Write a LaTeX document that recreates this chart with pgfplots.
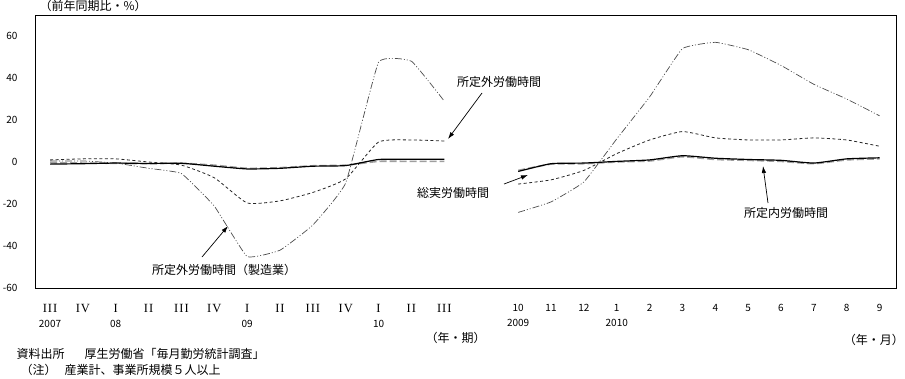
\documentclass[border=0pt]{standalone}
\usepackage{pgfplots}
\pgfplotsset{compat=1.18}
\usepackage{pgfplotstable}
\usepackage{fontspec}
\setmainfont{Noto Sans CJK JP}
\newfontfamily\romanf[LetterSpace=8]{Liberation Serif}
\usetikzlibrary{arrows.meta}

% quarterly: 2007 III ... 2010 III  (x = 0..12)
\pgfplotstableread{
x tot sch ovt mfg
0 -1.0 -0.3 1.0 0.5
1 -0.8 -0.5 1.5 0.5
2 -0.5 -0.6 1.5 -0.5
3 -0.7 -0.8 0.0 -3.0
4 -0.6 -0.6 -1.5 -5.5
5 -2.0 -1.5 -7.5 -21.0
6 -3.3 -3.0 -19.5 -45.0
7 -3.0 -2.7 -18.5 -42.0
8 -2.0 -1.8 -14.5 -30.0
9 -1.7 -1.5 -8.0 -10.0
10 1.2 0.3 9.5 47.5
11 1.3 0.3 10.5 48.0
12 1.3 0.3 10.0 29.0
}\quarterdata

% monthly: 2009/10 ... 2010/9
\pgfplotstableread{
x tot sch ovt mfg
14.25 -4.5 -4.0 -10.5 -24.0
15.25 -0.8 -1.0 -8.5 -19.0
16.25 -0.5 -0.8 -4.0 -9.5
17.25 0.3 0.0 4.0 11.0
18.25 1.0 0.5 10.5 31.0
19.25 3.0 2.5 14.5 54.0
20.25 1.8 1.2 11.5 57.0
21.25 1.2 0.8 10.5 53.5
22.25 0.8 0.3 10.5 46.0
23.25 -0.5 -0.8 11.5 37.0
24.25 1.5 1.0 10.5 30.0
25.25 2.0 1.5 7.5 22.0
}\monthdata

\tikzset{
  totstyle/.style={black, line width=1.2pt},
  schstyle/.style={gray!75, line width=1.6pt, dash pattern=on 7pt off 3pt},
  ovtstyle/.style={black!85, line width=0.8pt, dash pattern=on 3pt off 2.5pt},
  mfgstyle/.style={gray!60!black, line width=0.7pt, dash pattern=on 7pt off 2pt on 1pt off 2pt on 1pt off 2pt},
  jp/.style={font=\fontsize{12}{14}\selectfont},
}

\begin{document}
\begin{tikzpicture}
\useasboundingbox (0pt,0pt) rectangle (905pt,-378pt);
\begin{axis}[
  at={(35pt,-288pt)}, anchor=south west,
  scale only axis, width=861pt, height=273pt,
  xmin=-0.457, xmax=25.75, ymin=-60, ymax=70,
  ytick={-60,-40,-20,0,20,40,60},
  xtick={0,1,2,3,4,5,6,7,8,9,10,11,12,14.25,15.25,16.25,17.25,18.25,19.25,20.25,21.25,22.25,23.25,24.25,25.25},
  xticklabels={
    {{\romanf\fontsize{12.5}{15}\selectfont III}\\2007},{{\romanf\fontsize{12.5}{15}\selectfont IV}},{{\romanf\fontsize{12.5}{15}\selectfont I}\\08},{{\romanf\fontsize{12.5}{15}\selectfont II}},{{\romanf\fontsize{12.5}{15}\selectfont III}},{{\romanf\fontsize{12.5}{15}\selectfont IV}},
    {{\romanf\fontsize{12.5}{15}\selectfont I}\\09},{{\romanf\fontsize{12.5}{15}\selectfont II}},{{\romanf\fontsize{12.5}{15}\selectfont III}},{{\romanf\fontsize{12.5}{15}\selectfont IV}},{{\romanf\fontsize{12.5}{15}\selectfont I}\\10},{{\romanf\fontsize{12.5}{15}\selectfont II}},{{\romanf\fontsize{12.5}{15}\selectfont III}},
    {10\\2009},{11},{12},{1\\2010},{2},{3},{4},{5},{6},{7},{8},{9}},
  major tick length=0pt,
  axis line style={line width=0.9pt},
  /pgf/number format/assume math mode=true,
  tick label style={font=\fontsize{10}{15}\selectfont},
  xticklabel style={align=center, yshift=-13pt, font=\fontsize{10}{15}\selectfont},
  yticklabel style={xshift=-14pt},
  clip=false,
]
\addplot[mfgstyle, smooth, tension=0.2] table[x=x,y=mfg]{\quarterdata};
\addplot[ovtstyle, smooth, tension=0.3] table[x=x,y=ovt]{\quarterdata};
\addplot[schstyle, smooth, tension=0.3] table[x=x,y=sch]{\quarterdata};
\addplot[totstyle, smooth, tension=0.3] table[x=x,y=tot]{\quarterdata};
\addplot[mfgstyle, smooth, tension=0.2] table[x=x,y=mfg]{\monthdata};
\addplot[ovtstyle, smooth, tension=0.3] table[x=x,y=ovt]{\monthdata};
\addplot[schstyle, smooth, tension=0.3] table[x=x,y=sch]{\monthdata};
\addplot[totstyle, smooth, tension=0.3] table[x=x,y=tot]{\monthdata};
\end{axis}

% titles and notes
\node[jp, anchor=west] at (36pt,-6pt) {（前年同期比・\%）};
\node[jp, anchor=west] at (422pt,-338pt) {（年・期）};
\node[jp, anchor=east, inner sep=0pt] at (904pt,-340pt) {（年・月）};
\node[jp, anchor=west] at (13pt,-354pt) {資料出所};
\node[jp, anchor=west] at (81pt,-354pt) {厚生労働省「毎月勤労統計調査」};
\node[jp, anchor=west] at (17pt,-370pt) {（注）};
\node[jp, anchor=west] at (61pt,-370pt) {産業計、事業所規模５人以上};

% series labels
\node[jp] at (499pt,-82pt) {所定外労働時間};
\node[jp] at (453pt,-193pt) {総実労働時間};
\node[jp] at (786pt,-213pt) {所定内労働時間};
\node[jp] at (224pt,-270pt) {所定外労働時間（製造業）};

% arrows
\draw[line width=0.7pt, -{Latex[length=7pt,width=4.5pt]}] (482pt,-93pt) -- (448pt,-139pt);
\draw[line width=0.7pt, -{Latex[length=7pt,width=4.5pt]}] (504pt,-184pt) -- (528pt,-175pt);
\draw[line width=0.7pt, -{Latex[length=7pt,width=4.5pt]}] (768pt,-203pt) -- (763pt,-166pt);
\draw[line width=0.7pt, -{Latex[length=7pt,width=4.5pt]}] (202pt,-257pt) -- (228pt,-226pt);
\end{tikzpicture}
\end{document}
